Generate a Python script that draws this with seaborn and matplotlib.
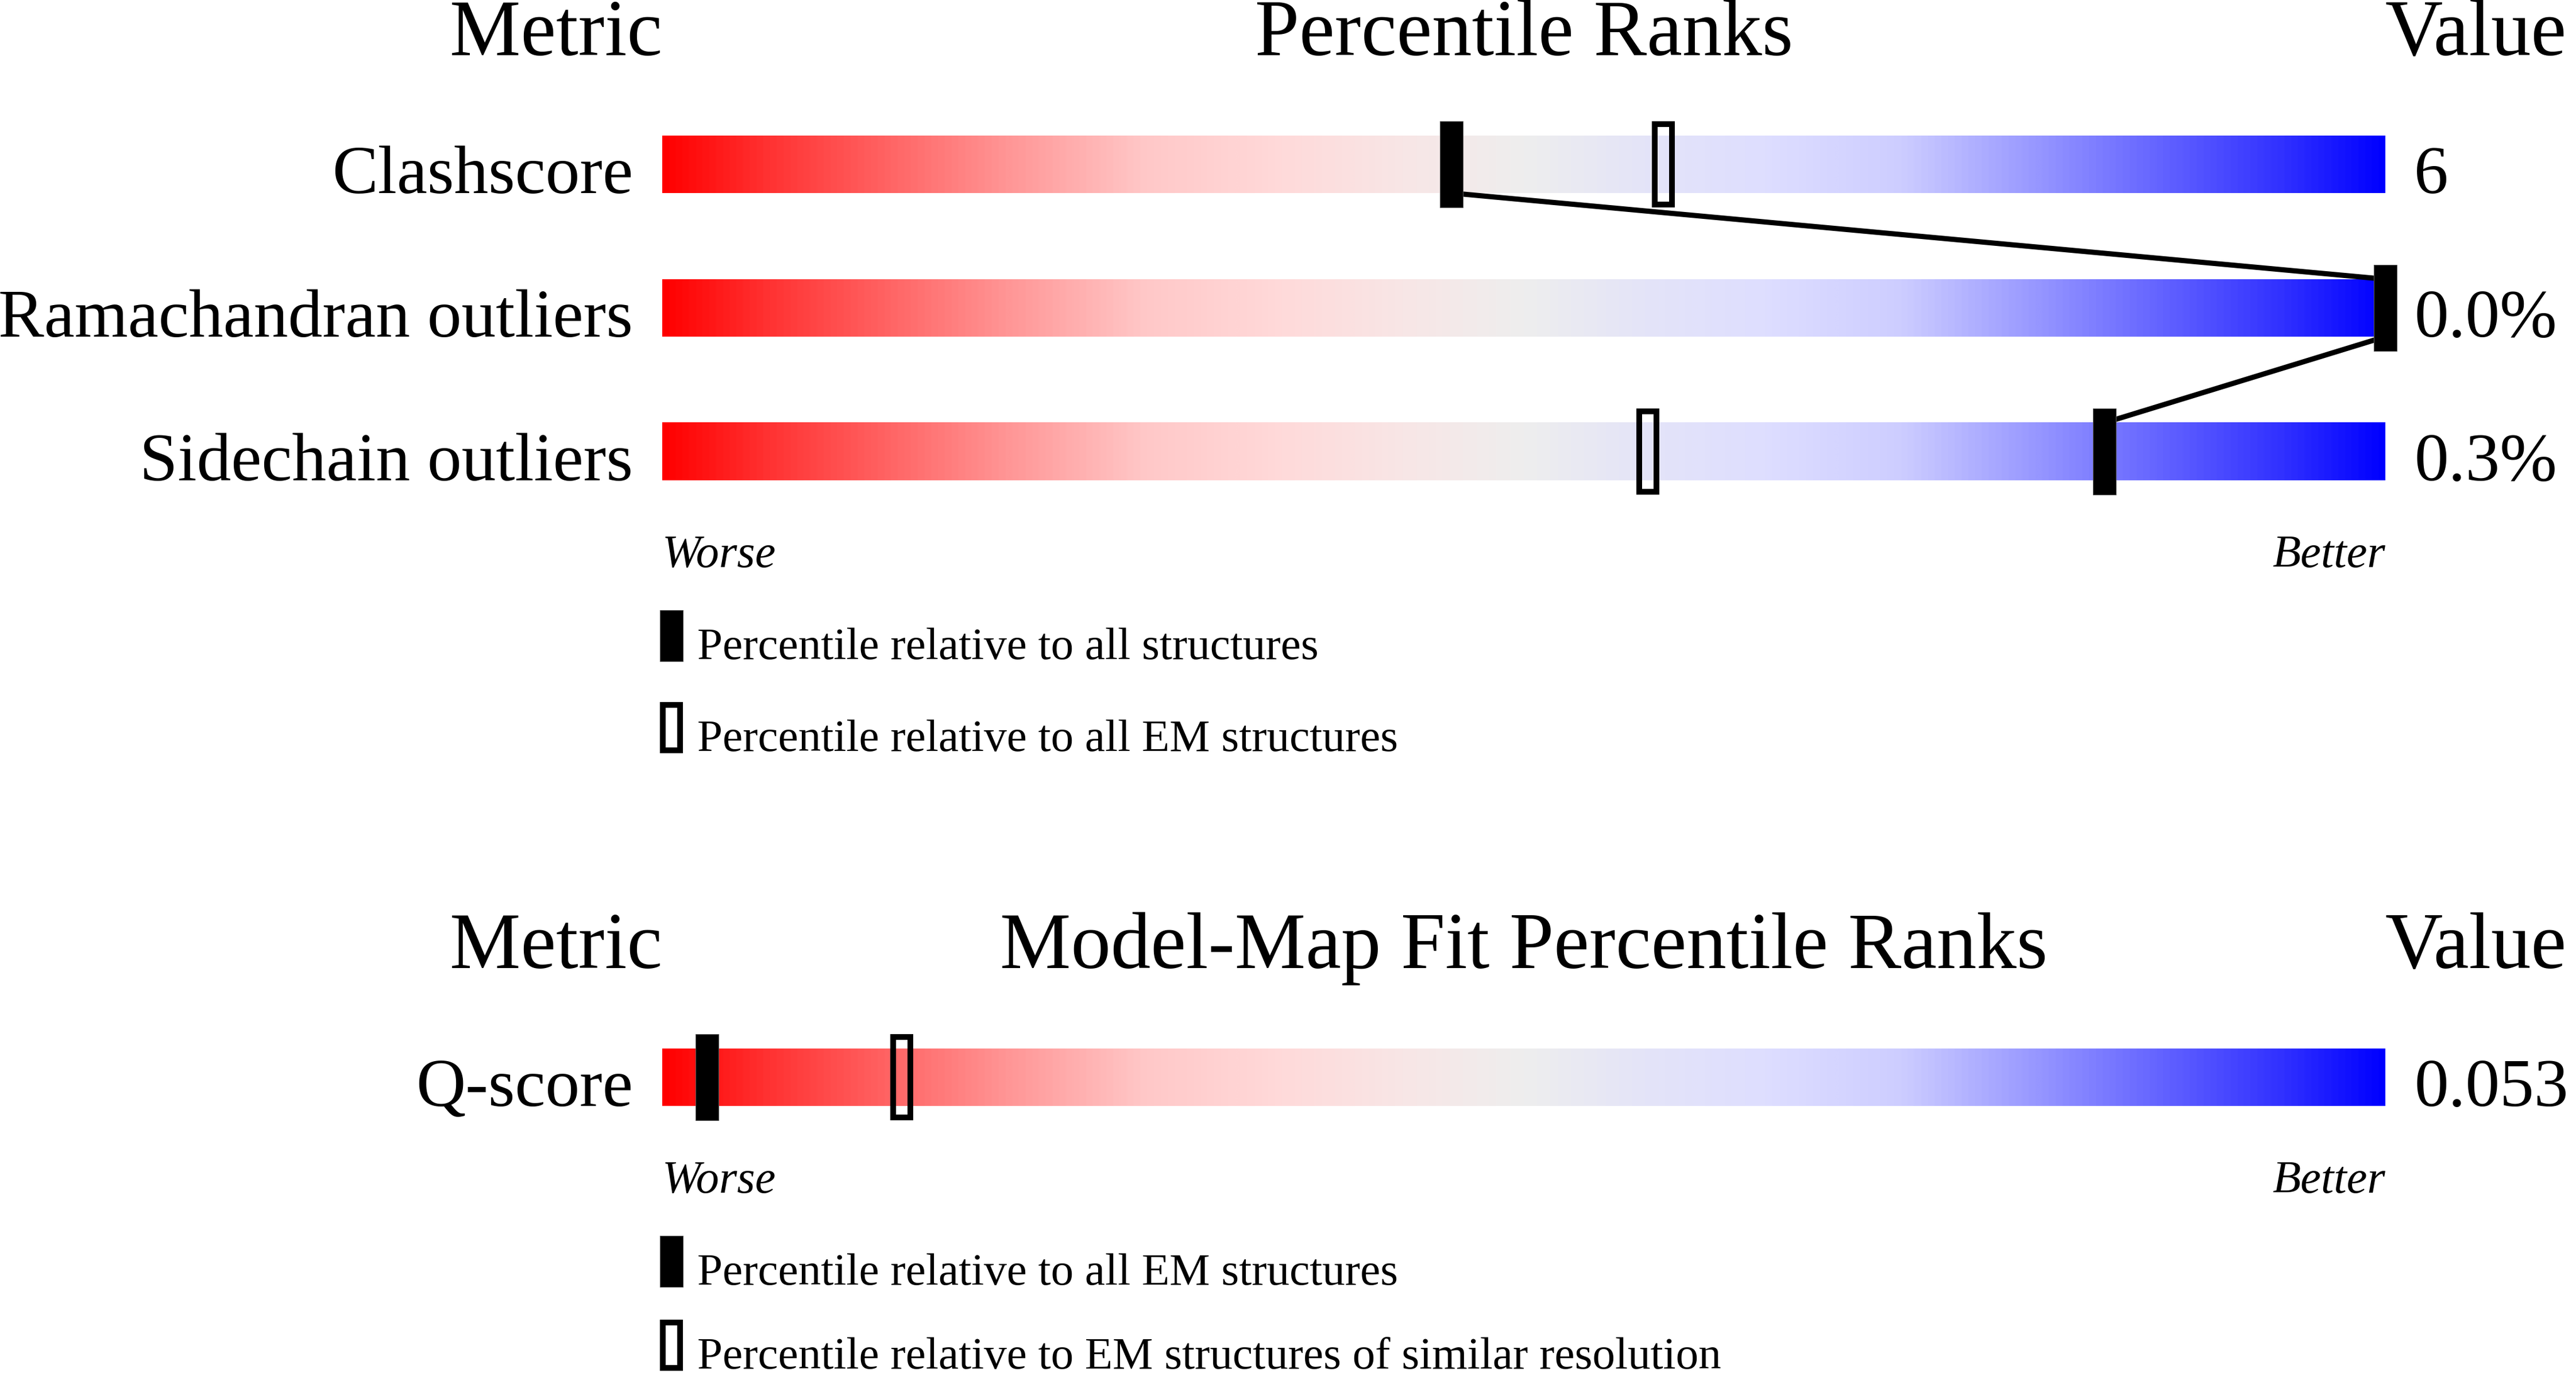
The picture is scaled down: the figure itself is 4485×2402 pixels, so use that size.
import numpy as np
import pandas as pd
import matplotlib
matplotlib.use("Agg")
import matplotlib.pyplot as plt
from matplotlib.colors import LinearSegmentedColormap
import seaborn as sns

# ---------------- data ----------------
top_titles = ["Metric", "Percentile Ranks", "Value"]
top_metrics = ["Clashscore", "Ramachandran outliers", "Sidechain outliers"]
top_values = ["6", "0.0%", "0.3%"]
top_pct_all = [45.8, 100.0, 83.7]      # filled markers
top_pct_em = [58.1, 100.0, 57.2]       # open markers
top_legend = ["Percentile relative to all structures",
              "Percentile relative to all EM structures"]

fit_titles = ["Metric", "Model-Map Fit Percentile Ranks", "Value"]
fit_metrics = ["Q-score"]
fit_values = ["0.053"]
fit_pct_all_em = [2.6]                  # filled markers
fit_pct_similar = [13.9]                # open markers
fit_legend = ["Percentile relative to all EM structures",
              "Percentile relative to EM structures of similar resolution"]

scale_labels = ["Worse", "Better"]

# ---------------- style ----------------
sns.set_theme(style="white")
plt.rcParams["font.family"] = ["Liberation Serif", "DejaVu Serif"]
plt.rcParams["text.color"] = "black"

W, H = 4485, 2402
DPI = 100
fig = plt.figure(figsize=(W / DPI, H / DPI), dpi=DPI)
fig.patch.set_facecolor("white")

anchors = [
    (0.00, (255, 0, 0)),
    (0.06, (255, 50, 50)),
    (0.13, (255, 100, 100)),
    (0.20, (255, 150, 150)),
    (0.28, (255, 200, 200)),
    (0.36, (255, 218, 218)),
    (0.43, (248, 230, 230)),
    (0.50, (238, 238, 238)),
    (0.57, (228, 228, 248)),
    (0.64, (222, 222, 255)),
    (0.72, (205, 205, 255)),
    (0.80, (150, 150, 255)),
    (0.87, (100, 100, 255)),
    (0.94, (50, 50, 255)),
    (1.00, (0, 0, 255)),
]
cmap = LinearSegmentedColormap.from_list(
    "slider", [(p, tuple(c / 255 for c in rgb)) for p, rgb in anchors])

BAR_LEFT, BAR_RIGHT = 1153, 4153
ROW_PX = 250.0
PX_PER_PCT = (BAR_RIGHT - BAR_LEFT) / 100.0

LABEL_FS = 86
TITLE_FS = 100
SMALL_FS = 57


def make_axes(center_first_row_px, n_rows):
    top_px = center_first_row_px - ROW_PX / 2
    bot_px = top_px + n_rows * ROW_PX
    ax = fig.add_axes([BAR_LEFT / W, 1 - bot_px / H,
                       (BAR_RIGHT - BAR_LEFT) / W, (bot_px - top_px) / H])
    ax.set_facecolor("none")
    return ax


def draw_panel(ax, titles, metrics, values, pct_filled, pct_open, legend,
               last_legend_shift=0.0):
    n = len(metrics)
    grad = np.linspace(0, 1, 1024).reshape(1, -1)
    for i in range(n):
        ax.imshow(grad, cmap=cmap, extent=[0, 100, i + 0.2, i - 0.2],
                  aspect="auto", interpolation="bilinear", zorder=1)

    # connecting line between filled markers
    if n > 1:
        xs, ys = [], []
        for i, p in enumerate(pct_filled):
            if i > 0:
                xs.append(p); ys.append(i - 0.2)
            if i < n - 1:
                xs.append(p); ys.append(i + 0.2)
        df = pd.DataFrame({"x": xs, "y": ys})
        sns.lineplot(data=df, x="x", y="y", sort=False, estimator=None,
                     color="black", linewidth=6.5, ax=ax, zorder=2)
        for ln in ax.lines:
            ln.set_clip_on(False)

    rows = np.arange(n)
    mw = 40 / PX_PER_PCT
    lw_px = 10
    ow = (40 - lw_px) / PX_PER_PCT
    oh = 0.6 - lw_px / ROW_PX
    ax.bar(pct_open, oh, width=ow, bottom=rows - oh / 2, fill=False,
           edgecolor="black", linewidth=lw_px * 72 / DPI, zorder=3,
           clip_on=False)
    ax.bar(pct_filled, 0.6, width=mw, bottom=rows - 0.3, color="black",
           edgecolor="#555555", linewidth=0.8, zorder=4, clip_on=False)

    for i in range(n):
        ax.text(-51 / PX_PER_PCT, i + 0.2, metrics[i], ha="right",
                va="baseline", fontsize=LABEL_FS, color="black", clip_on=False)
        ax.text(100 + 50 / PX_PER_PCT, i + 0.2, values[i], ha="left",
                va="baseline", fontsize=LABEL_FS, color="black", clip_on=False)

    ax.text(0, -0.76, titles[0], ha="right", va="baseline",
            fontsize=TITLE_FS, color="black", clip_on=False)
    ax.text(50, -0.76, titles[1], ha="center", va="baseline",
            fontsize=TITLE_FS, color="black", clip_on=False)
    ax.text(100, -0.76, titles[2], ha="left", va="baseline",
            fontsize=TITLE_FS, color="black", clip_on=False)

    last = n - 1
    ax.text(0, last + 0.804, scale_labels[0], ha="left", va="baseline",
            fontsize=SMALL_FS + 1, style="italic", color="black", clip_on=False)
    ax.text(100, last + 0.804, scale_labels[1], ha="right", va="baseline",
            fontsize=SMALL_FS + 1, style="italic", color="black", clip_on=False)

    # legend
    lx = (1169 - BAR_LEFT) / PX_PER_PCT
    lh = 89 / ROW_PX
    ax.bar([lx], [lh], width=mw, bottom=[last + 1.104], color="black",
           edgecolor="#555555", linewidth=0.8, clip_on=False, zorder=4)
    olh = lh - lw_px / ROW_PX
    ax.bar([lx], [olh], width=ow,
           bottom=[last + 1.744 - last_legend_shift + lw_px / ROW_PX / 2],
           fill=False, edgecolor="black", linewidth=lw_px * 72 / DPI,
           clip_on=False, zorder=4)
    tx = (1214 - BAR_LEFT) / PX_PER_PCT
    ax.text(tx, last + 1.444, legend[0], ha="left", va="baseline",
            fontsize=SMALL_FS, color="black", clip_on=False)
    ax.text(tx, last + 2.084 - last_legend_shift, legend[1], ha="left",
            va="baseline", fontsize=SMALL_FS, color="black", clip_on=False)

    ax.set_xlim(0, 100)
    ax.set_ylim(n - 0.5, -0.5)
    ax.set_xlabel("")
    ax.set_ylabel("")
    ax.axis("off")


ax_top = make_axes(286, len(top_metrics))
draw_panel(ax_top, top_titles, top_metrics, top_values, top_pct_all,
           top_pct_em, top_legend)

ax_fit = make_axes(1875, len(fit_metrics))
draw_panel(ax_fit, fit_titles, fit_metrics, fit_values, fit_pct_all_em,
           fit_pct_similar, fit_legend, last_legend_shift=14 / ROW_PX)

fig.savefig("out.png", dpi=DPI, facecolor="white")
